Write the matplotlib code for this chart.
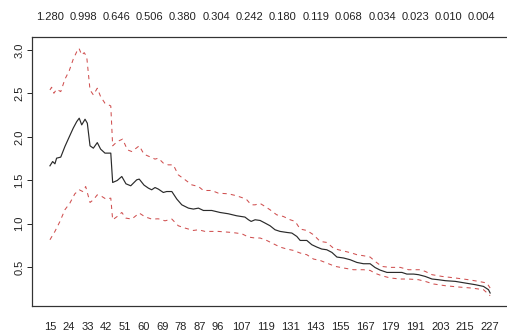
import matplotlib
matplotlib.use("Agg")
import matplotlib.pyplot as plt
from matplotlib import font_manager

# order statistics k (x) and hill estimate with its confidence band
mean_k = [15, 16.3, 17.4, 18.2, 20.2, 22.2, 23.8, 26.2, 27.9, 29.1,
          30.3, 31.9, 33.0, 34.3, 35.9, 37.8, 39.4, 41.5, 44.3, 45.2,
          47.4, 49.6, 51.6, 53.9, 56.8, 58.0, 60.3, 62.4, 64.0, 65.6,
          67.2, 69.6, 71.2, 73.7, 76.1, 78.5, 81.7, 84.1, 86.5, 88.9,
          92.9, 96.9, 100.9, 104.9, 108.9, 110.6, 111.9, 113.8, 116.2, 118.6,
          121.0, 123.4, 125.8, 129.1, 131.5, 133.9, 135.5, 138.7, 141.1, 143.5,
          145.9, 148.3, 150.8, 153.2, 156.4, 159.6, 162.8, 166.0, 169.2, 171.6,
          174.0, 177.3, 181.3, 184.5, 186.9, 190.1, 192.5, 195.7, 199.0, 202.1,
          205.4, 210.2, 215.0, 219.8, 223.8, 226.2, 227]
mean_v = [1.667, 1.716, 1.690, 1.755, 1.767, 1.889, 1.974, 2.10, 2.176, 2.215,
          2.138, 2.203, 2.157, 1.897, 1.870, 1.934, 1.859, 1.813, 1.813, 1.475,
          1.498, 1.544, 1.460, 1.437, 1.506, 1.514, 1.445, 1.41, 1.391, 1.417,
          1.399, 1.36, 1.371, 1.371, 1.284, 1.218, 1.18, 1.169, 1.18, 1.153,
          1.153, 1.130, 1.115, 1.092, 1.077, 1.046, 1.027, 1.046, 1.038, 1.008,
          0.977, 0.931, 0.912, 0.90, 0.893, 0.854, 0.808, 0.808, 0.759, 0.732,
          0.709, 0.701, 0.67, 0.617, 0.606, 0.586, 0.555, 0.54, 0.54, 0.496,
          0.467, 0.44, 0.44, 0.44, 0.421, 0.421, 0.414, 0.394, 0.364, 0.356,
          0.345, 0.337, 0.318, 0.299, 0.279, 0.241, 0.203]

upper_k = [15, 15.8, 16.9, 18.2, 20.2, 22.2, 24.3, 26.2, 27.9, 29.0,
           30.3, 31.5, 32.7, 34.3, 35.9, 37.8, 39.4, 41.5, 44.3, 45.2,
           47.4, 50.0, 52.3, 54.4, 58.0, 60.3, 63.2, 65.6, 67.2, 69.6,
           72.0, 74.4, 76.8, 80.1, 83.3, 86.5, 88.9, 92.9, 96.1, 100.9,
           104.9, 108.2, 109.8, 111.9, 113.8, 116.2, 118.6, 121.0, 124.2, 127.4,
           130.7, 133.1, 135.5, 138.7, 141.9, 145.1, 148.3, 151.5, 153.9, 157.2,
           160.4, 162.8, 166.0, 169.2, 171.6, 174.8, 178.9, 183.7, 187.7, 193.3,
           195.7, 199.0, 203.8, 210.2, 216.6, 221.4, 225.4, 227]
upper_v = [2.54, 2.571, 2.502, 2.548, 2.521, 2.663, 2.762, 2.893, 2.980, 3.019,
           2.943, 2.969, 2.923, 2.540, 2.483, 2.56, 2.463, 2.387, 2.356, 1.897,
           1.946, 1.974, 1.851, 1.831, 1.897, 1.80, 1.77, 1.744, 1.755, 1.698,
           1.678, 1.678, 1.563, 1.506, 1.448, 1.429, 1.383, 1.383, 1.352, 1.345,
           1.322, 1.295, 1.276, 1.218, 1.218, 1.234, 1.199, 1.161, 1.103, 1.084,
           1.046, 1.027, 0.939, 0.923, 0.874, 0.797, 0.785, 0.72, 0.701, 0.682,
           0.663, 0.644, 0.632, 0.617, 0.567, 0.509, 0.498, 0.498, 0.471, 0.471,
           0.452, 0.414, 0.394, 0.376, 0.356, 0.337, 0.318, 0.26]

lower_k = [15, 17.4, 19.8, 22.2, 24.6, 27.0, 29.1, 30.8, 32.2, 34.3,
           35.9, 37.8, 40.0, 42.0, 44.3, 45.2, 47.4, 49.6, 51.6, 54.4,
           58.0, 60.8, 64.0, 67.2, 70.4, 73.7, 76.8, 80.1, 84.1, 86.5,
           89.7, 96.1, 102.6, 107.4, 110.6, 113.8, 116.2, 119.4, 122.6, 125.8,
           129.1, 132.3, 135.5, 138.7, 141.9, 145.1, 148.3, 152.3, 156.4, 161.2,
           166.0, 169.2, 171.6, 174.8, 178.9, 183.7, 187.7, 192.5, 195.7, 199.7,
           205.4, 211.8, 218.2, 223.8, 227]
lower_v = [0.816, 0.912, 1.026, 1.161, 1.238, 1.345, 1.391, 1.371, 1.429, 1.245,
           1.276, 1.333, 1.314, 1.284, 1.295, 1.046, 1.084, 1.130, 1.065, 1.054,
           1.123, 1.08, 1.054, 1.057, 1.034, 1.054, 0.977, 0.95, 0.923, 0.931,
           0.912, 0.912, 0.90, 0.885, 0.847, 0.836, 0.836, 0.808, 0.77, 0.732,
           0.709, 0.693, 0.663, 0.644, 0.594, 0.578, 0.548, 0.51, 0.491, 0.471,
           0.471, 0.463, 0.43, 0.402, 0.376, 0.364, 0.364, 0.356, 0.337, 0.307,
           0.287, 0.272, 0.26, 0.241, 0.172]

bottom_ticks = [15, 24, 33, 42, 51, 60, 69, 78, 87, 96, 107,
                119, 131, 143, 155, 167, 179, 191, 203, 215, 227]
top_ticks = [15, 31, 47, 63, 79, 95, 111, 127, 143, 159, 175, 191, 207, 223]
top_labels = ["1.280", "0.998", "0.646", "0.506", "0.380", "0.304", "0.242",
              "0.180", "0.119", "0.068", "0.034", "0.023", "0.010", "0.004"]
y_ticks = [0.5, 1.0, 1.5, 2.0, 2.5, 3.0]

names = {f.name for f in font_manager.fontManager.ttflist}
font = "Liberation Sans Narrow" if "Liberation Sans Narrow" in names else "Liberation Sans"
plt.rcParams["font.family"] = [font, "DejaVu Sans"]
plt.rcParams["font.size"] = 8

fig = plt.figure(figsize=(5.07, 3.34), dpi=100)
ax = fig.add_axes([32.3 / 507, (334 - 305.7) / 334, (507.8 - 32.3) / 507, (305.7 - 37.3) / 334])

ax.plot(mean_k, mean_v, color="#2a2a2a", lw=0.85)
ax.plot(upper_k, upper_v, color="#d05050", lw=0.75, dashes=(4, 4))
ax.plot(lower_k, lower_v, color="#d05050", lw=0.75, dashes=(4, 4))

ax.set_xlim(6.5, 235.5)
ax.set_ylim(0.057, 3.146)

ax.set_xticks(bottom_ticks)
ax.set_xticklabels([str(t) for t in bottom_ticks])
ax.tick_params(axis="x", length=0, pad=12, colors="#222222")
ax.set_yticks(y_ticks)
ax.set_yticklabels([f"{t:.1f}" for t in y_ticks], rotation=90, va="center")
ax.tick_params(axis="y", length=3.6, width=0.7, pad=2, colors="#222222")

ax2 = ax.twiny()
ax2.set_xlim(ax.get_xlim())
ax2.set_xticks(top_ticks)
ax2.set_xticklabels(top_labels)
ax2.tick_params(axis="x", length=0, pad=11, colors="#222222")

for a in (ax, ax2):
    for s in a.spines.values():
        s.set_linewidth(0.8)
        s.set_color("#333333")

fig.savefig("out.png", dpi=100)
